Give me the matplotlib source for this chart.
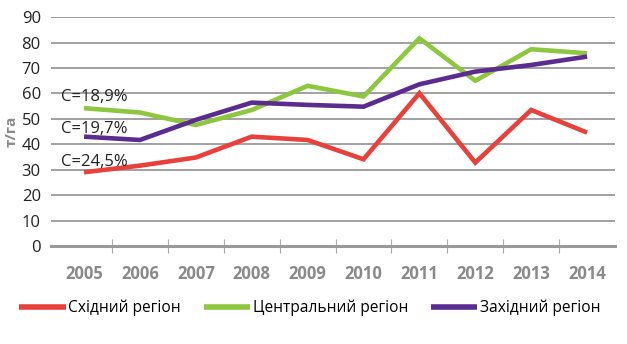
import matplotlib
matplotlib.use("Agg")
import matplotlib.pyplot as plt
from matplotlib.ticker import FixedLocator

years = ["2005", "2006", "2007", "2008", "2009", "2010", "2011", "2012", "2013", "2014"]
east = [29.0, 31.6, 34.8, 43.0, 41.7, 34.1, 60.1, 32.8, 53.5, 44.6]
central = [54.2, 52.5, 47.6, 53.5, 63.0, 58.8, 81.7, 65.0, 77.4, 75.8]
west = [43.0, 41.7, 49.6, 56.4, 55.5, 54.8, 63.6, 68.6, 71.2, 74.5]
labels = ["Східний регіон", "Центральний регіон", "Західний регіон"]
annots = ["C=18,9%", "C=19,7%", "C=24,5%"]
annot_y = [58.6, 46, 33]

plt.rcParams['font.family'] = ['Open Sans', 'DejaVu Sans']

fig = plt.figure(figsize=(6.27, 3.44), dpi=100)
ax = fig.add_axes([0.0806, 0.285, 0.9003, 0.665])

x = list(range(len(years)))
colors = ["#E8403A", "#8DC63F", "#5B2C8F"]
for vals, c, lab in zip([east, central, west], colors, labels):
    ax.plot(x, vals, color=c, lw=3.3, label=lab, solid_capstyle='butt', solid_joinstyle='miter', zorder=3)

ax.set_xlim(-0.6, 9.5)
ax.set_ylim(0, 90)
ax.set_yticks(range(0, 91, 10))
ax.yaxis.grid(True, color="#9A9A9A", lw=1.3)
ax.set_axisbelow(True)
for s in ["top", "right", "left"]:
    ax.spines[s].set_visible(False)
ax.spines["bottom"].set_color("#999999")
ax.spines["bottom"].set_linewidth(2.2)

ax.set_xticks(x)
ax.set_xticklabels(years, fontsize=12, fontweight='bold', color="#8A8A8A")
ax.tick_params(axis='x', which='major', length=0, pad=14)
ax.xaxis.set_minor_locator(FixedLocator([i + 0.5 for i in range(9)]))
ax.tick_params(axis='x', which='minor', length=10, direction='inout', color="#AAAAAA", width=0.8)
ax.tick_params(axis='y', length=0, pad=7, labelsize=12, labelcolor="#222222")

ax.set_ylabel("т/га", fontsize=11, fontweight='bold', color="#8A8A8A", labelpad=2)

for t, yv in zip(annots, annot_y):
    ax.text(-0.42, yv, t, fontsize=12, color="#222222", ha='left', va='center')

leg = fig.legend(loc='center', bbox_to_anchor=(0.494, 0.105), ncol=3, frameon=False,
                 fontsize=11.2, handlelength=3.0, handletextpad=0.15, columnspacing=1.45)
for h in leg.get_lines():
    h.set_linewidth(4)

fig.savefig("out.png", dpi=100)
